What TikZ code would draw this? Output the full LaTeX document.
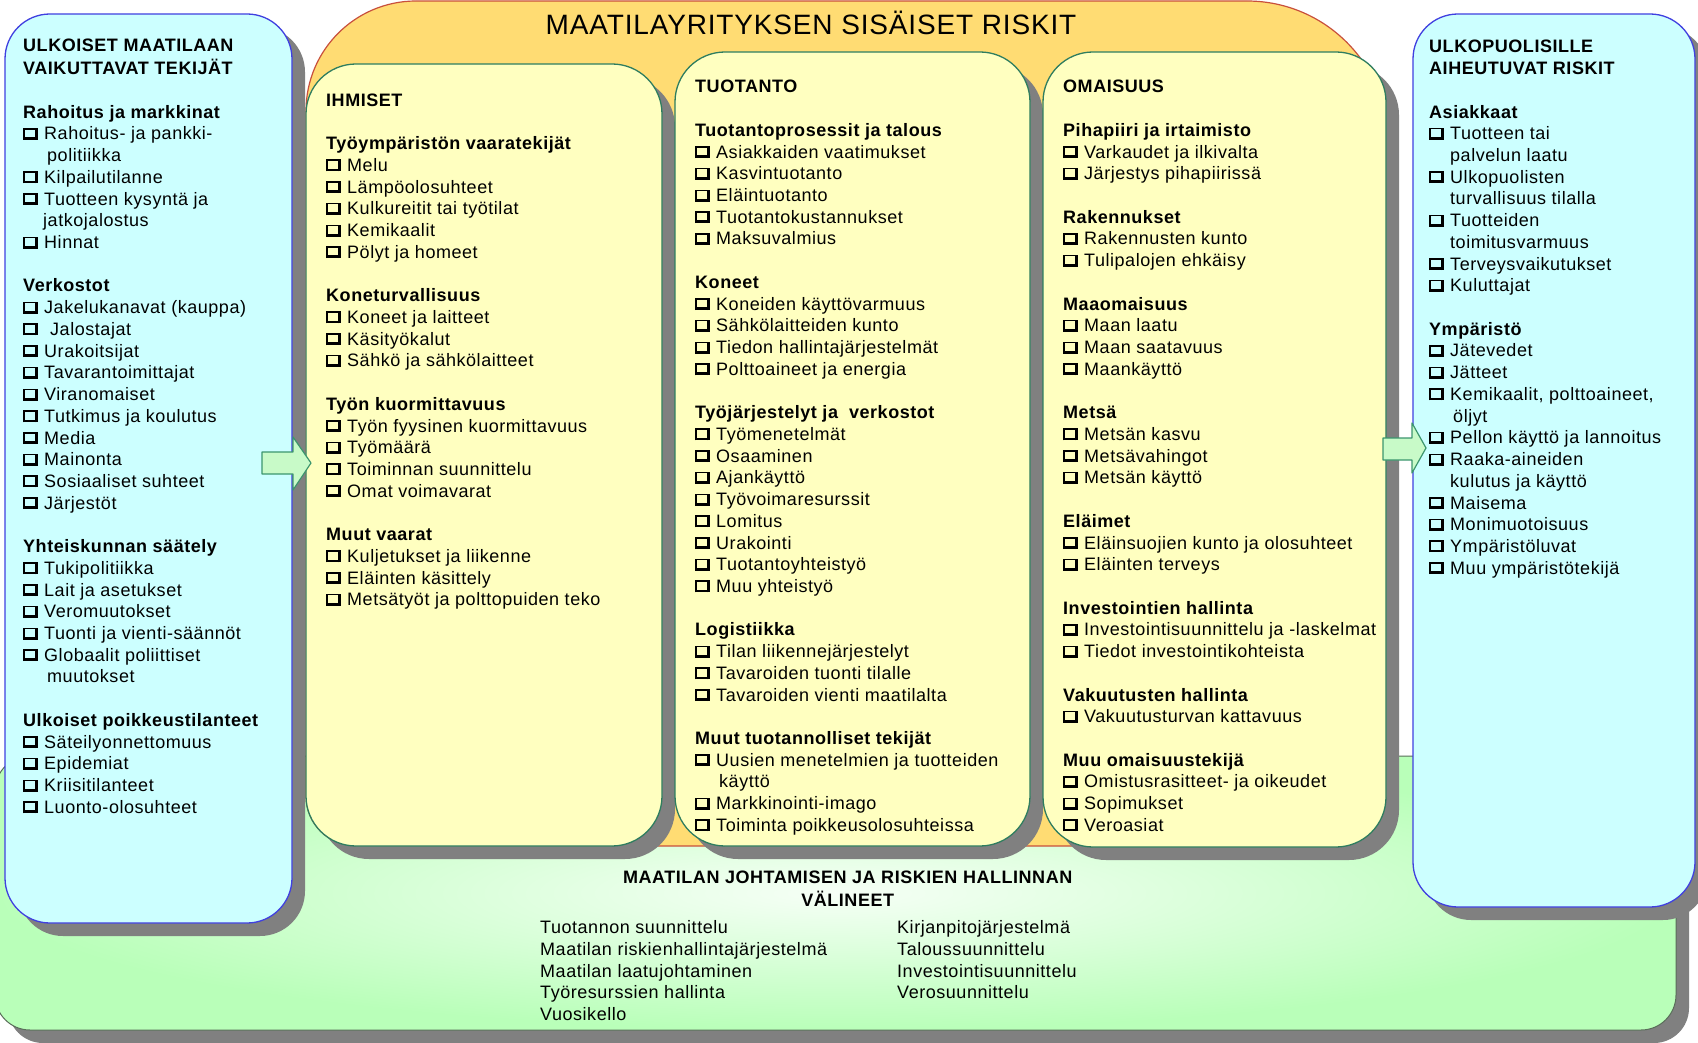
\documentclass[tikz,border=0pt]{standalone}
\usepackage{fontspec}
\setmainfont{Liberation Sans}[LetterSpace=3]
\usepackage{xcolor}
\definecolor{sidefill}{RGB}{204,255,255}
\definecolor{sideedge}{RGB}{64,64,224}
\definecolor{innerfill}{RGB}{255,255,192}
\definecolor{inneredge}{RGB}{46,125,95}
\definecolor{riskfill}{RGB}{255,220,115}
\definecolor{riskedge}{RGB}{200,80,60}
\definecolor{toolsfill}{RGB}{185,255,185}
\definecolor{toolslight}{RGB}{246,255,246}
\definecolor{toolsedge}{RGB}{90,110,90}
\definecolor{dropgray}{RGB}{128,128,128}
\definecolor{arrowfill}{RGB}{200,250,200}
\definecolor{arrowedge}{RGB}{60,150,110}

\newcommand\cb{\makebox[21pt][l]{%
  \rlap{\rule{14.5pt}{2.8pt}}%
  \rlap{\rule[10.4pt]{13.5pt}{1.6pt}}%
  \rlap{\rule{1.6pt}{12pt}}%
  \hspace*{11.7pt}\rule{2.8pt}{12pt}}}

\tikzset{
  colnode/.style={anchor=north west, inner sep=0pt, align=left,
    font=\fontsize{18}{21.72}\selectfont},
  sidebox/.style={fill=sidefill, draw=sideedge, line width=1.3pt, rounded corners=45pt},
  innerbox/.style={fill=innerfill, draw=inneredge, line width=1.3pt, rounded corners=50pt},
  dropbox/.style={fill=dropgray, rounded corners=#1},
  blockarrow/.style={fill=arrowfill, draw=arrowedge, line width=1.2pt, line join=round}
}

\begin{document}
\begin{tikzpicture}[x=1pt, y=-1pt]
\useasboundingbox[fill=white] (0,0) rectangle (1698,1043);

% johtamisen valineet
\fill[dropbox=35pt] (8,769) rectangle (1689,1043);
\shade[inner color=toolslight, outer color=toolsfill, rounded corners=35pt] (-5,756) rectangle (1676,1030);
\draw[toolsedge, line width=1pt, rounded corners=35pt] (-5,756) rectangle (1676,1030);

% sisaiset riskit
\filldraw[fill=riskfill, draw=riskedge, line width=1.2pt]
  (306,111) arc[start angle=180, end angle=270, radius=110] -- (1247,1)
  arc[start angle=270, end angle=360, radius=141] -- (1388,796)
  arc[start angle=0, end angle=90, radius=50] -- (356,846)
  arc[start angle=90, end angle=180, radius=50] -- cycle;

\fill[dropbox=50pt] (319,77) rectangle (675,859);
\filldraw[innerbox] (306,64) rectangle (662,846);
\fill[dropbox=50pt] (688,65) rectangle (1043,859);
\filldraw[innerbox] (675,52) rectangle (1030,846);
\fill[dropbox=50pt] (1056,65) rectangle (1399,860);
\filldraw[innerbox] (1043,52) rectangle (1386,847);

% ulkoiset ja ulkopuoliset
\fill[dropbox=45pt] (18,27) rectangle (305,936);
\filldraw[sidebox] (5,14) rectangle (292,923);
\fill[dropbox=45pt] (1426,27) rectangle (1708,920);
\filldraw[sidebox] (1413,14) rectangle (1695,907);

\filldraw[blockarrow] (262,452) -- (293,452) -- (293,437) -- (311,463) -- (293,490) -- (293,474) -- (262,474) -- cycle;
\filldraw[blockarrow] (1383,438) -- (1412,438) -- (1412,423) -- (1426,448) -- (1412,473) -- (1412,460) -- (1383,460) -- cycle;

\node[font=\fontsize{28}{32}\selectfont, anchor=base, inner sep=0pt] (otsikko) at (811,35) {MAATILAYRITYKSEN SISÄISET RISKIT};

\node[colnode] (ulkoiset) at (23,36.5) {\strut\textbf{ULKOISET MAATILAAN}\\
\textbf{VAIKUTTAVAT TEKIJÄT}\\[21.72pt]
\textbf{Rahoitus ja markkinat}\\
\cb Rahoitus- ja pankki-\\
\hspace*{24pt}politiikka\\
\cb Kilpailutilanne\\
\cb Tuotteen kysyntä ja\\
\hspace*{20pt}jatkojalostus\\
\cb Hinnat\\[21.72pt]
\textbf{Verkostot}\\
\cb Jakelukanavat (kauppa)\\
\cb\hspace*{6pt}Jalostajat\\
\cb Urakoitsijat\\
\cb Tavarantoimittajat\\
\cb Viranomaiset\\
\cb Tutkimus ja koulutus\\
\cb Media\\
\cb Mainonta\\
\cb Sosiaaliset suhteet\\
\cb Järjestöt\\[21.72pt]
\textbf{Yhteiskunnan säätely}\\
\cb Tukipolitiikka\\
\cb Lait ja asetukset\\
\cb Veromuutokset\\
\cb Tuonti ja vienti-säännöt\\
\cb Globaalit poliittiset\\
\hspace*{24pt}muutokset\\[21.72pt]
\textbf{Ulkoiset poikkeustilanteet}\\
\cb Säteilyonnettomuus\\
\cb Epidemiat\\
\cb Kriisitilanteet\\
\cb Luonto-olosuhteet};

\node[colnode] (ihmiset) at (326,90.8) {\strut\textbf{IHMISET}\\[21.72pt]
\textbf{Työympäristön vaaratekijät}\\
\cb Melu\\
\cb Lämpöolosuhteet\\
\cb Kulkureitit tai työtilat\\
\cb Kemikaalit\\
\cb Pölyt ja homeet\\[21.72pt]
\textbf{Koneturvallisuus}\\
\cb Koneet ja laitteet\\
\cb Käsityökalut\\
\cb Sähkö ja sähkölaitteet\\[21.72pt]
\textbf{Työn kuormittavuus}\\
\cb Työn fyysinen kuormittavuus\\
\cb Työmäärä\\
\cb Toiminnan suunnittelu\\
\cb Omat voimavarat\\[21.72pt]
\textbf{Muut vaarat}\\
\cb Kuljetukset ja liikenne\\
\cb Eläinten käsittely\\
\cb Metsätyöt ja polttopuiden teko};

\node[colnode] (tuotanto) at (695,77.5) {\strut\textbf{TUOTANTO}\\[21.72pt]
\textbf{Tuotantoprosessit ja talous}\\
\cb Asiakkaiden vaatimukset\\
\cb Kasvintuotanto\\
\cb Eläintuotanto\\
\cb Tuotantokustannukset\\
\cb Maksuvalmius\\[21.72pt]
\textbf{Koneet}\\
\cb Koneiden käyttövarmuus\\
\cb Sähkölaitteiden kunto\\
\cb Tiedon hallintajärjestelmät\\
\cb Polttoaineet ja energia\\[21.72pt]
\textbf{Työjärjestelyt ja\ \ verkostot}\\
\cb Työmenetelmät\\
\cb Osaaminen\\
\cb Ajankäyttö\\
\cb Työvoimaresurssit\\
\cb Lomitus\\
\cb Urakointi\\
\cb Tuotantoyhteistyö\\
\cb Muu yhteistyö\\[21.72pt]
\textbf{Logistiikka}\\
\cb Tilan liikennejärjestelyt\\
\cb Tavaroiden tuonti tilalle\\
\cb Tavaroiden vienti maatilalta\\[21.72pt]
\textbf{Muut tuotannolliset tekijät}\\
\cb Uusien menetelmien ja tuotteiden\\
\hspace*{24pt}käyttö\\
\cb Markkinointi-imago\\
\cb Toiminta poikkeusolosuhteissa};

\node[colnode] (omaisuus) at (1063,77.5) {\strut\textbf{OMAISUUS}\\[21.72pt]
\textbf{Pihapiiri ja irtaimisto}\\
\cb Varkaudet ja ilkivalta\\
\cb Järjestys pihapiirissä\\[21.72pt]
\textbf{Rakennukset}\\
\cb Rakennusten kunto\\
\cb Tulipalojen ehkäisy\\[21.72pt]
\textbf{Maaomaisuus}\\
\cb Maan laatu\\
\cb Maan saatavuus\\
\cb Maankäyttö\\[21.72pt]
\textbf{Metsä}\\
\cb Metsän kasvu\\
\cb Metsävahingot\\
\cb Metsän käyttö\\[21.72pt]
\textbf{Eläimet}\\
\cb Eläinsuojien kunto ja olosuhteet\\
\cb Eläinten terveys\\[21.72pt]
\textbf{Investointien hallinta}\\
\cb Investointisuunnittelu ja -laskelmat\\
\cb Tiedot investointikohteista\\[21.72pt]
\textbf{Vakuutusten hallinta}\\
\cb Vakuutusturvan kattavuus\\[21.72pt]
\textbf{Muu omaisuustekijä}\\
\cb Omistusrasitteet- ja oikeudet\\
\cb Sopimukset\\
\cb Veroasiat};

\node[colnode] (ulkopuoliset) at (1429,37.5) {\strut\textbf{ULKOPUOLISILLE}\\
\textbf{AIHEUTUVAT RISKIT}\\[21.72pt]
\textbf{Asiakkaat}\\
\cb Tuotteen tai\\
\hspace*{21pt}palvelun laatu\\
\cb Ulkopuolisten\\
\hspace*{21pt}turvallisuus tilalla\\
\cb Tuotteiden\\
\hspace*{21pt}toimitusvarmuus\\
\cb Terveysvaikutukset\\
\cb Kuluttajat\\[21.72pt]
\textbf{Ympäristö}\\
\cb Jätevedet\\
\cb Jätteet\\
\cb Kemikaalit, polttoaineet,\\
\hspace*{24pt}öljyt\\
\cb Pellon käyttö ja lannoitus\\
\cb Raaka-aineiden\\
\hspace*{21pt}kulutus ja käyttö\\
\cb Maisema\\
\cb Monimuotoisuus\\
\cb Ympäristöluvat\\
\cb Muu ympäristötekijä};

\node[colnode, anchor=north, align=center] (valineet) at (848,867.8) {\strut\textbf{MAATILAN JOHTAMISEN JA RISKIEN HALLINNAN}\\
\textbf{VÄLINEET}};
\node[colnode] (valineetA) at (540,918.3) {\strut Tuotannon suunnittelu\\
Maatilan riskienhallintajärjestelmä\\
Maatilan laatujohtaminen\\
Työresurssien hallinta\\
Vuosikello};
\node[colnode] (valineetB) at (897,918.3) {\strut Kirjanpitojärjestelmä\\
Taloussuunnittelu\\
Investointisuunnittelu\\
Verosuunnittelu};
\end{tikzpicture}
\end{document}
